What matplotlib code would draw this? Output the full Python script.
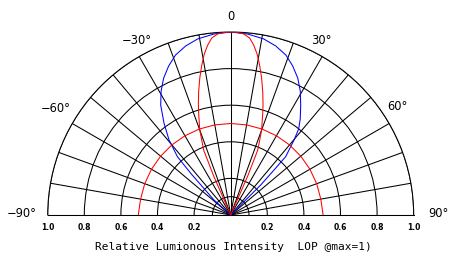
import matplotlib.pyplot as plt
import numpy as np

# angle in degrees (0 = straight up, positive to the right), r relative to max
blue_theta = [-48, -45, -43.8, -42.4, -39.4, -36, -32.5, -29.3, -26.1, -22.6, -19.0,
              -14.9, -10.6, -5.4, 0, 5.4, 10.6, 14.9, 19.0, 22.6, 26.1, 29.3, 32.5,
              35.9, 38.3, 40.2, 43.3, 43.9, 45, 45]
blue_r = [0.123, 0.219, 0.316, 0.432, 0.531, 0.62, 0.712, 0.777, 0.833, 0.882, 0.925,
          0.956, 0.979, 0.993, 1.0, 0.993, 0.979, 0.956, 0.925, 0.882, 0.833, 0.777, 0.712,
          0.648, 0.599, 0.536, 0.438, 0.341, 0.232, 0.129]

red_lobe_theta = [-23.6, -22.6, -20.0, -17.7, -16.4, -14.6, -12.7, -10.9, -9.3, -7.7,
                  -6.1, -4.1, -2.2, 0, 2.2, 4.1, 6.1, 7.7, 9.3, 10.9, 12.7, 14.6, 16.4,
                  17.7, 20.0, 22.6, 23.6]
red_lobe_r = [0.232, 0.385, 0.494, 0.574, 0.626, 0.695, 0.768, 0.835, 0.892, 0.937,
              0.973, 0.992, 0.998, 1.0, 0.998, 0.992, 0.973, 0.937, 0.892, 0.835, 0.768,
              0.695, 0.626, 0.574, 0.494, 0.385, 0.232]

red_arc_theta = [-90, -80, -70, -60, -50, -40, -30, -20, -10, 0,
                 10, 20, 30, 40, 50, 60, 70, 80, 90]
red_arc_r = [0.505, 0.50, 0.50, 0.50, 0.50, 0.50, 0.50, 0.50, 0.50, 0.50,
             0.50, 0.50, 0.50, 0.50, 0.50, 0.50, 0.50, 0.50, 0.505]

ring_values = [0.1, 0.2, 0.4, 0.6, 0.8, 1.0]
scale_values = [1.0, 0.8, 0.6, 0.4, 0.2]
scale_labels = ["1.0", "0.8", "0.6", "0.4", "0.2"]

angle_labels = ["\u221290\u00b0", "\u221260\u00b0", "\u221230\u00b0", "0", "30\u00b0", "60\u00b0", "90\u00b0"]
angle_label_pos = [(-89.5, 1.14), (-58.7, 1.12), (-28.2, 1.085), (0, 1.082),
                   (27.5, 1.078), (57, 1.084), (89.5, 1.135)]

XLABEL = "Relative Lumionous Intensity  LOP @max=1)"

# pixel geometry of the half disc in the 450x256 canvas
CX, CY, RAD = 230.7, 215.0, 183.0
LW = 0.75


def closed_to_origin(theta, r):
    # both lobes start and end at the pole
    return np.deg2rad([theta[0]] + list(theta) + [theta[-1]]), [0.0] + list(r) + [0.0]


def main():
    fig = plt.figure(figsize=(4.5, 2.56), dpi=100, facecolor="white")
    # polar axes keeps a square box; the half disc sits in its middle band
    box_bottom_px = 256 - (CY - RAD / 2) - RAD
    ax = fig.add_axes([(CX - RAD) / 450, box_bottom_px / 256, 2 * RAD / 450, 2 * RAD / 256],
                      projection="polar")
    ax.set_theta_zero_location("N")
    ax.set_theta_direction(-1)
    ax.set_thetamin(-90)
    ax.set_thetamax(90)
    ax.set_rlim(0, 1.0)

    ax.set_thetagrids(np.arange(-90, 91, 10), labels=[""] * 19)
    ax.set_rgrids(ring_values, labels=[""] * len(ring_values))
    ax.grid(True, color="black", linewidth=LW, linestyle="-")
    for sp in ax.spines.values():
        sp.set_color("black")
        sp.set_linewidth(LW)
    ax.tick_params(length=0)

    t, r = closed_to_origin(blue_theta, blue_r)
    ax.plot(t, r, color="#0000ff", linewidth=LW, zorder=3)
    t, r = closed_to_origin(red_lobe_theta, red_lobe_r)
    ax.plot(t, r, color="#ff0000", linewidth=LW, zorder=3)
    ax.plot(np.deg2rad(red_arc_theta), red_arc_r, color="#ff0000", linewidth=LW, zorder=3)

    for side in (-90, 90):
        for v, lab in zip(scale_values, scale_labels):
            ax.annotate(lab, xy=(np.deg2rad(side), v), xytext=(0, -13),
                        textcoords="offset pixels", ha="center", va="center",
                        fontsize=5.5, fontweight="bold", annotation_clip=False)

    for lab, (tt, rr) in zip(angle_labels, angle_label_pos):
        ax.text(np.deg2rad(tt), rr, lab, ha="center", va="center", fontsize=8.3,
                clip_on=False)

    fig.text(233 / 450, 6 / 256, XLABEL, ha="center", va="baseline",
             fontsize=8, family="DejaVu Sans Mono")

    fig.savefig("out.png", dpi=100, facecolor="white")
    plt.close(fig)


if __name__ == "__main__":
    main()
